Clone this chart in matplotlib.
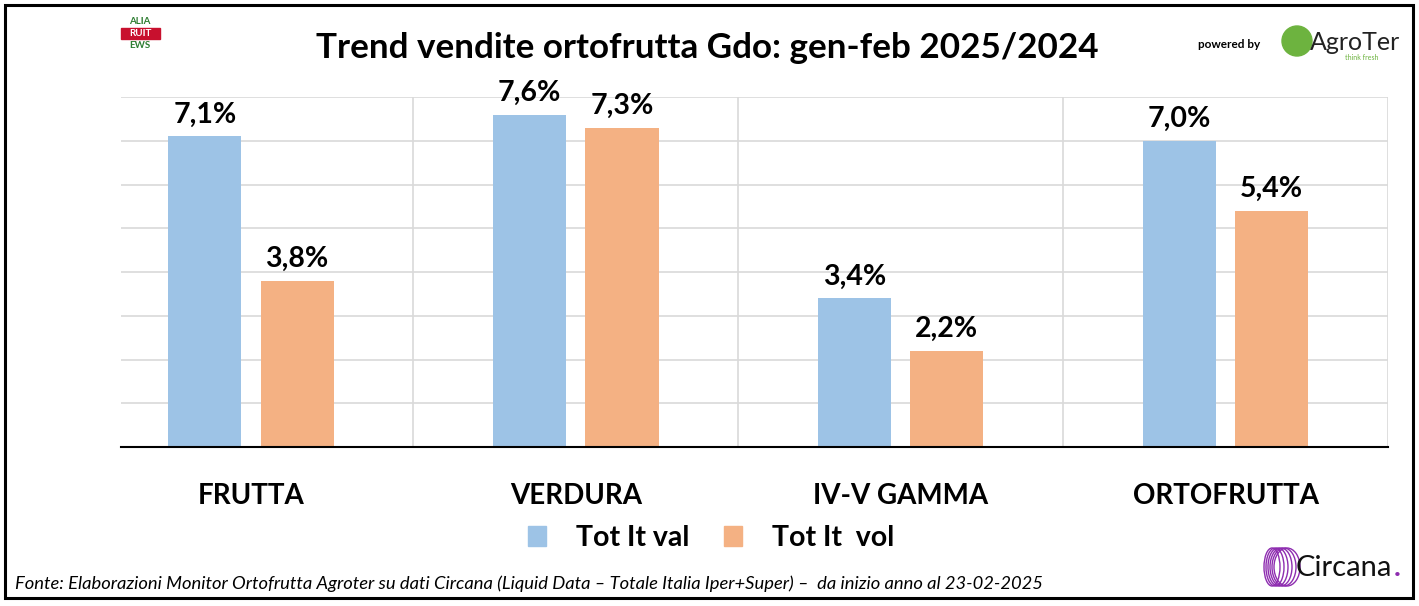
import matplotlib.pyplot as plt
from matplotlib.patches import Rectangle, Ellipse
import numpy as np

categories = ['FRUTTA', 'VERDURA', 'IV-V GAMMA', 'ORTOFRUTTA']
val_values = [7.1, 7.6, 3.4, 7.0]
vol_values = [3.8, 7.3, 2.2, 5.4]
val_labels = ['7,1%', '7,6%', '3,4%', '7,0%']
vol_labels = ['3,8%', '7,3%', '2,2%', '5,4%']
series_names = ['Tot It val', 'Tot It  vol']

blue = '#9DC3E6'
orange = '#F4B183'
W, H = 1419, 606

plt.rcParams['font.family'] = ['Lato', 'DejaVu Sans']

fig = plt.figure(figsize=(W / 100, H / 100), dpi=100)
ax = fig.add_axes([121 / W, 1 - 447 / H, (1388 - 121) / W, (447 - 97) / H])

x = np.arange(len(categories))
bw = 0.225
ax.bar(x - 0.142, val_values, bw, color=blue, zorder=3)
ax.bar(x + 0.142, vol_values, bw, color=orange, zorder=3)

for xi, v, lab in zip(x, val_values, val_labels):
    ax.text(xi - 0.142, v + 0.2, lab, ha='center', va='bottom', fontsize=20.5, fontweight='bold')
for xi, v, lab in zip(x, vol_values, vol_labels):
    ax.text(xi + 0.142, v + 0.2, lab, ha='center', va='bottom', fontsize=20.5, fontweight='bold')

ax.set_xlim(-0.4, 3.5)
ax.set_ylim(0, 8)
ax.set_yticks(np.arange(0, 9, 1))
ax.set_yticklabels([])
ax.tick_params(left=False, bottom=False, length=0)
ax.set_xticks(x)
ax.set_xticklabels(categories, fontsize=20, fontweight='bold')
ax.tick_params(axis='x', pad=26)
ax.grid(axis='y', color='#D9D9D9', linewidth=1.2, zorder=0)
for b in [0.5, 1.5, 2.5, 3.5]:
    ax.axvline(b, color='#D9D9D9', linewidth=1.2, zorder=0)
for s in ['top', 'left', 'right']:
    ax.spines[s].set_visible(False)
ax.spines['bottom'].set_linewidth(1.5)
ax.spines['bottom'].set_zorder(4)

# legend
ax.legend([Rectangle((0, 0), 1, 1, color=blue), Rectangle((0, 0), 1, 1, color=orange)],
          series_names, loc='center', bbox_to_anchor=(711 / W, 1 - 538 / H),
          bbox_transform=fig.transFigure, ncol=2, frameon=False,
          prop={'size': 20.5, 'weight': 'bold'}, handlelength=0.65, handleheight=0.65,
          handletextpad=1.05, columnspacing=1.2)

# title
fig.text(707 / W, 1 - 48 / H, 'Trend vendite ortofrutta Gdo: gen-feb 2025/2024',
         ha='center', va='center', fontsize=25.2, fontweight='bold')

# footnote
fig.text(15 / W, 1 - 584 / H,
         'Fonte: Elaborazioni Monitor Ortofrutta Agroter su dati Circana (Liquid Data \u2013 Totale Italia Iper+Super) \u2013  da inizio anno al 23-02-2025',
         ha='left', va='center', fontsize=13.2, style='italic')

# logo: Italiafruit news
fig.patches.append(Rectangle((121 / W, 1 - 39 / H), 39 / W, 11 / H, transform=fig.transFigure,
                             color='#C8102E', zorder=1))
fig.text(140 / W, 1 - 22 / H, 'ALIA', ha='center', va='center', fontsize=7, color='#2E7D32', fontweight='bold')
fig.text(140 / W, 1 - 34 / H, 'RUIT', ha='center', va='center', fontsize=7, color='white', fontweight='bold', zorder=2)
fig.text(140 / W, 1 - 46 / H, 'EWS', ha='center', va='center', fontsize=7, color='#2E7D32', fontweight='bold')

# logo: powered by AgroTer
fig.text(1229 / W, 1 - 44 / H, 'powered by', ha='center', va='center', fontsize=8.5, fontweight='bold')
fig.patches.append(Ellipse((1297 / W, 1 - 41 / H), 30 / W, 30 / H, transform=fig.transFigure,
                           color='#6DB33F', zorder=1))
fig.text(1355 / W, 1 - 42 / H, 'AgroTer', ha='center', va='center', fontsize=18, color='#222222')
fig.text(1362 / W, 1 - 57 / H, 'think fresh', ha='center', va='center', fontsize=5, color='#6DB33F')

# logo: Circana
for i in range(6):
    fig.patches.append(Ellipse(((1272 + i * 3) / W, 1 - 567 / H), (16 + i * 2) / W, 38 / H,
                               transform=fig.transFigure, fill=False, edgecolor='#8E2DB0',
                               linewidth=1, zorder=1))
circ = fig.text(1296 / W, 1 - 568 / H, 'Circana', ha='left', va='center', fontsize=21, color='#111111')
fig.canvas.draw()
ax.annotate('.', xy=(1, 0), xycoords=circ, xytext=(1, 0), textcoords='offset points',
            ha='left', va='bottom', fontsize=21, color='#8E2DB0', fontweight='bold',
            annotation_clip=False)

# outer frame
fig.patches.append(Rectangle((5 / W, 1 - 598 / H), 1408 / W, 593 / H, transform=fig.transFigure,
                             fill=False, edgecolor='black', linewidth=2.2, zorder=10))

fig.savefig('out.png', dpi=100)
